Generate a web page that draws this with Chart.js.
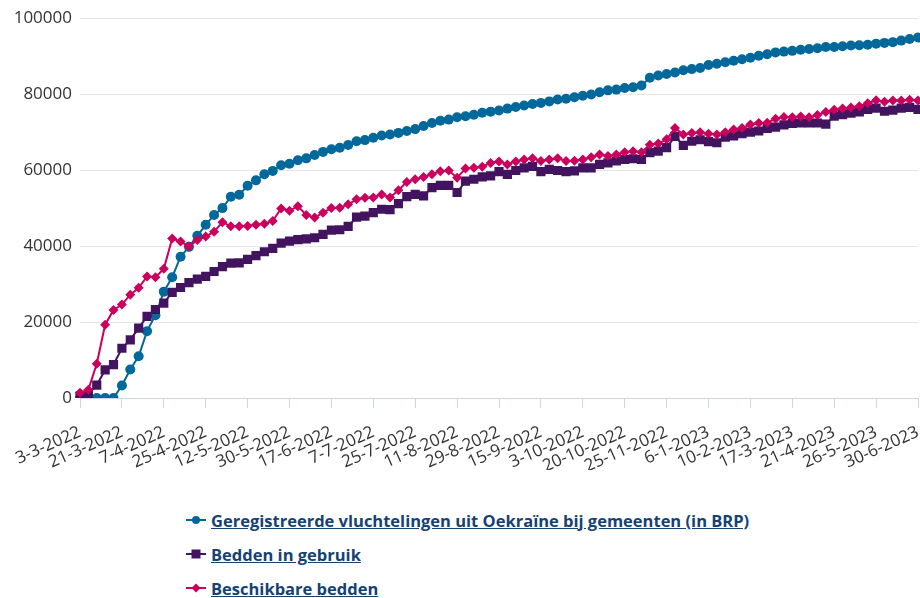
<!DOCTYPE html>
<html lang="nl">
<head>
<meta charset="utf-8">
<title>Vluchtelingen uit Oekraïne en opvangbedden</title>
<script src="https://cdn.jsdelivr.net/npm/chart.js@4.4.1/dist/chart.umd.min.js"></script>
<style>
    body { margin: 0; background: #fff; font-family: 'Open Sans', sans-serif; }
    #wrap { position: relative; width: 920px; height: 598px; overflow: hidden; }
    #chartBox { position: absolute; left: 0; top: 0; width: 920px; height: 470px; }
    #legenda { position: absolute; left: 186px; top: 503px; margin: 0; padding: 0; list-style: none; }
    #legenda li { height: 34px; display: flex; align-items: center; cursor: pointer; }
    #legenda svg { margin-right: 5px; }
    #legenda a { color: #154273; font-weight: bold; font-size: 16.5px; text-decoration: underline; }
    #legenda li.uit a { color: #999; }
</style>
</head>
<body>
<div id="wrap">
    <div id="chartBox"><canvas id="opvangChart"></canvas></div>
    <ul id="legenda"></ul>
</div>
<script>
// labels op de x-as (elke 5e meting)
const tickLabels = ['3-3-2022', '21-3-2022', '7-4-2022', '25-4-2022', '12-5-2022', '30-5-2022',
    '17-6-2022', '7-7-2022', '25-7-2022', '11-8-2022', '29-8-2022', '15-9-2022', '3-10-2022',
    '20-10-2022', '25-11-2022', '6-1-2023', '10-2-2023', '17-3-2023', '21-4-2023', '26-5-2023', '30-6-2023'];

const reeksNamen = ['Geregistreerde vluchtelingen uit Oekraïne bij gemeenten (in BRP)', 'Bedden in gebruik', 'Beschikbare bedden'];

const geregistreerd = [
    0, 0, 0, 0, 0, 3300, 7500, 11000, 17600, 21800,
    28000, 31800, 37200, 39800, 42700, 45600, 48200, 50000, 53000, 53500,
    55900, 57300, 58900, 59800, 61300, 61700, 62600, 63100, 64000, 64800,
    65500, 65900, 66600, 67600, 67900, 68500, 69100, 69400, 69800, 70300,
    70800, 71600, 72400, 73000, 73300, 73900, 74200, 74600, 75100, 75400,
    75700, 76200, 76600, 77000, 77400, 77700, 78100, 78600, 78800, 79200,
    79600, 79900, 80500, 81000, 81200, 81600, 81800, 82300, 84300, 84900,
    85300, 85700, 86300, 86600, 86900, 87700, 88000, 88400, 88800, 89200,
    89600, 90100, 90500, 91000, 91200, 91400, 91700, 91900, 92100, 92400,
    92400, 92600, 92800, 92900, 93000, 93300, 93500, 93700, 94100, 94500,
    94900
];

const beddenInGebruik = [
    500, 1100, 3400, 7400, 8800, 13100, 15300, 18400, 21500, 23300,
    25000, 27800, 29100, 30400, 31300, 32000, 33300, 34600, 35500, 35600,
    36500, 37500, 38500, 39400, 40800, 41300, 41700, 41900, 42200, 43100,
    44200, 44300, 45200, 47600, 47900, 48800, 49700, 49600, 51200, 53000,
    53600, 53200, 55400, 56000, 56000, 54100, 57100, 57600, 58200, 58500,
    59600, 58900, 59900, 60600, 61000, 59600, 60200, 59900, 59600, 59800,
    60600, 60600, 61500, 61900, 62400, 62800, 63000, 62800, 64600, 65000,
    65900, 68900, 66500, 67600, 68000, 67500, 67200, 68700, 69000, 69600,
    70000, 70300, 71000, 71300, 71900, 72300, 72400, 72400, 72400, 72100,
    74200, 74600, 75000, 75300, 76000, 76300, 75500, 75800, 76300, 76500,
    76000
];

const beschikbareBedden = [
    1400, 2200, 9000, 19300, 23200, 24600, 27200, 29000, 32000, 31800,
    34000, 42000, 41200, 39900, 41600, 42500, 43800, 46300, 45200, 45200,
    45300, 45600, 45900, 46600, 49900, 49300, 50500, 48200, 47500, 48800,
    50000, 50100, 51000, 52300, 52700, 52800, 53600, 52800, 54700, 56900,
    57600, 58200, 58900, 59700, 59900, 58000, 60400, 60600, 60900, 61900,
    62300, 61500, 62300, 62800, 63100, 62400, 62800, 63100, 62400, 62500,
    62800, 63400, 64100, 63700, 64100, 64700, 65000, 64700, 66700, 67000,
    68100, 71100, 69400, 69800, 70000, 69600, 69400, 70000, 70700, 71100,
    72000, 72400, 72500, 73500, 74000, 73900, 74100, 73900, 74500, 75300,
    75900, 76200, 76500, 76800, 77600, 78400, 78000, 78300, 78300, 78500,
    78300
];

// elke meting krijgt een categorie, alleen elke 5e heeft een zichtbaar label
const categorieen = geregistreerd.map((v, i) => (i % 5 === 0 ? tickLabels[i / 5] : ''));

const blauw = '#01689b';
const paars = '#42145f';
const rood = '#ca005d';

document.addEventListener('DOMContentLoaded', function () {
    const ctx = document.getElementById('opvangChart').getContext('2d');
    const grafiek = new Chart(ctx, {
        type: 'line',
        data: {
            labels: categorieen,
            datasets: [{
                label: reeksNamen[0],
                data: geregistreerd,
                borderColor: blauw,
                backgroundColor: blauw,
                pointStyle: 'circle',
                pointRadius: 5,
                order: 2
            }, {
                label: reeksNamen[1],
                data: beddenInGebruik,
                borderColor: paars,
                backgroundColor: paars,
                pointStyle: 'rect',
                pointRadius: 6.5,
                order: 1
            }, {
                label: reeksNamen[2],
                data: beschikbareBedden,
                borderColor: rood,
                backgroundColor: rood,
                pointStyle: 'rectRot',
                pointRadius: 5,
                order: 0
            }]
        },
        options: {
            responsive: true,
            maintainAspectRatio: false,
            animation: false,
            layout: { autoPadding: false, padding: { top: 17, right: 2, left: 0, bottom: 0 } },
            elements: {
                line: { borderWidth: 2, tension: 0 },
                point: { borderWidth: 0, hoverRadius: 6 }
            },
            interaction: { mode: 'index', intersect: false },
            plugins: {
                legend: { display: false },
                tooltip: { enabled: true }
            },
            scales: {
                x: {
                    afterFit: function (s) {
                        s.height = 72;
                        s.paddingLeft = 0;
                        s.paddingRight = 0;
                    },
                    grid: {
                        drawOnChartArea: false,
                        drawTicks: true,
                        tickLength: 10,
                        color: c => (c.index % 5 === 0 ? '#ccd6eb' : 'rgba(0,0,0,0)')
                    },
                    border: { color: '#ccd6eb', width: 1 },
                    ticks: {
                        autoSkip: false,
                        minRotation: 24,
                        maxRotation: 24,
                        padding: 14,
                        color: '#333333',
                        font: { family: 'Open Sans', size: 17 }
                    }
                },
                y: {
                    min: 0,
                    max: 100000,
                    afterFit: function (s) { s.width = 80; },
                    grid: { color: '#e6e6e6', drawTicks: false },
                    border: { display: false },
                    ticks: {
                        stepSize: 20000,
                        padding: 8,
                        color: '#333333',
                        font: { family: 'Open Sans', size: 17 },
                        callback: v => String(v)
                    }
                }
            }
        }
    });

    // legenda met onderstreepte links, zoals op de site
    const lijst = document.getElementById('legenda');
    grafiek.data.datasets.forEach((ds, i) => {
        const li = document.createElement('li');
        let marker = '';
        if (ds.pointStyle === 'circle') {
            marker = '<circle cx="10" cy="7" r="4" fill="' + ds.borderColor + '"/>';
        } else if (ds.pointStyle === 'rect') {
            marker = '<rect x="5.5" y="2.5" width="9" height="9" fill="' + ds.borderColor + '"/>';
        } else {
            marker = '<path d="M10 2.5 L14.5 7 L10 11.5 L5.5 7 Z" fill="' + ds.borderColor + '"/>';
        }
        li.innerHTML = '<svg width="20" height="14"><line x1="0" y1="7" x2="20" y2="7" stroke="' +
            ds.borderColor + '" stroke-width="2"/>' + marker + '</svg><a href="#">' + ds.label + '</a>';
        li.addEventListener('click', function (e) {
            e.preventDefault();
            const zichtbaar = grafiek.isDatasetVisible(i);
            grafiek.setDatasetVisibility(i, !zichtbaar);
            li.classList.toggle('uit', zichtbaar);
            grafiek.update();
        });
        lijst.appendChild(li);
    });
});
</script>
</body>
</html>
